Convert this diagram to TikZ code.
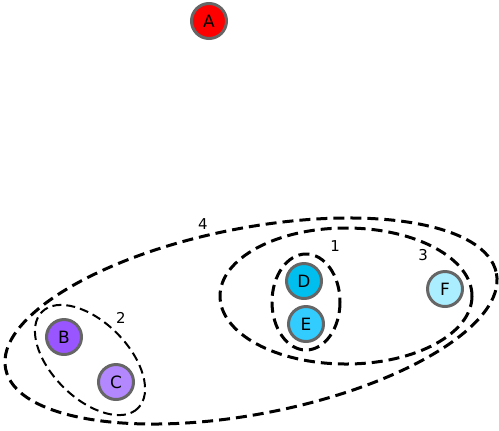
\documentclass[tikz,border=0pt]{standalone}
\usepackage{fontspec}
\setmainfont{DejaVu Sans}
\begin{document}
\begin{tikzpicture}[x=1bp,y=-1bp,
  vertex/.style={circle,draw=black!60,line width=3bp,minimum size=35bp,
                 inner sep=0pt,font=\fontsize{17}{17}\selectfont},
  group/.style={line width=3bp,dash pattern=on 11bp off 6bp},
  thingroup/.style={line width=2bp,dash pattern=on 9bp off 5bp},
  grouplabel/.style={inner sep=0pt,font=\fontsize{15}{15}\selectfont}]
  \useasboundingbox (0,0) rectangle (499,430);
  % vertices
  \node[vertex,fill={rgb,255:red,255;green,0;blue,0}]     (A) at (209,21)  {A};
  \node[vertex,fill={rgb,255:red,153;green,85;blue,255}]  (B) at (64,337)  {B};
  \node[vertex,fill={rgb,255:red,179;green,136;blue,255}] (C) at (116,382) {C};
  \node[vertex,fill={rgb,255:red,0;green,191;blue,238}]   (D) at (304,281) {D};
  \node[vertex,fill={rgb,255:red,51;green,204;blue,255}]  (E) at (306,324) {E};
  \node[vertex,fill={rgb,255:red,170;green,238;blue,255}] (F) at (445,289) {F};
  % groups
  \draw[group]     (306,302) ellipse [x radius=34, y radius=48];
  \draw[thingroup] (90,360)  [rotate around={-45:(90,360)}] ellipse [x radius=68, y radius=38];
  \draw[group]     (346,296) ellipse [x radius=126, y radius=68];
  \draw[group]     (251,321) [rotate around={11:(251,321)}] ellipse [x radius=250, y radius=93];
  % group labels
  \node[grouplabel] (l1) at (335,246) {1};
  \node[grouplabel] (l2) at (121,318) {2};
  \node[grouplabel] (l3) at (423,255) {3};
  \node[grouplabel] (l4) at (203,224) {4};
\end{tikzpicture}
\end{document}
